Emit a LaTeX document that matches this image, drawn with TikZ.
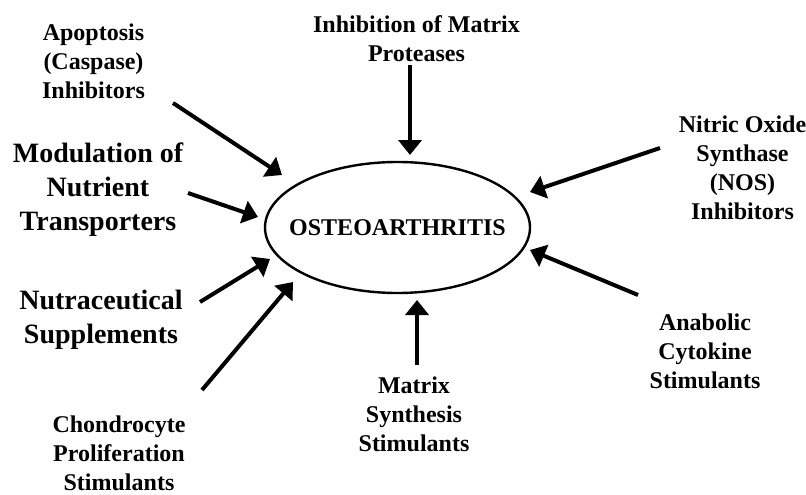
\documentclass[tikz,border=0pt]{standalone}
\usepackage{fontspec}
\setmainfont{Liberation Serif}
\usepackage{tikz}
\usetikzlibrary{shapes.geometric,arrows.meta,positioning,calc}

\begin{document}
\begin{tikzpicture}[x=1pt, y=-1pt,
    lbl/.style={align=center, inner sep=0pt, anchor=north, font=\fontsize{24}{29}\selectfont\bfseries},
    biglbl/.style={align=center, inner sep=0pt, anchor=north, font=\fontsize{28}{34}\selectfont\bfseries},
    feed/.style={-{Triangle[length=15pt, width=23pt]}, line width=4pt}]
            \useasboundingbox (0,0) rectangle (806,495);
            % Central disease node
            \node [inner sep=0pt, font=\fontsize{24}{29}\selectfont\bfseries] (oa) at (397.5,227.5) {OSTEOARTHRITIS};
            \draw [line width=2.4pt] (oa.center) ellipse [x radius=132.5, y radius=65.5];

            % Treatment labels round the ellipse
            \node [lbl] (apop) at (93.5,23.6) {Apoptosis\\(Caspase)\\Inhibitors};
            \node [lbl] (inhib) at (416.5,15.6) {Inhibition of Matrix\\Proteases};
            \node [biglbl] (modul) at (98,142.9) {Modulation of\\Nutrient\\Transporters};
            \node [biglbl] (nutra) at (101,289.9) {Nutraceutical\\Supplements};
            \node [lbl] (chond) at (119,416) {Chondrocyte\\Proliferation\\Stimulants};
            \node [lbl] (matsyn) at (414,376.6) {Matrix\\Synthesis\\Stimulants};
            \node [lbl] (nos) at (742.5,115.6) {Nitric Oxide\\Synthase\\(NOS)\\Inhibitors};
            \node [lbl] (anab) at (705,313.6) {Anabolic\\Cytokine\\Stimulants};

            % Arrow ends
            \coordinate (apop-s) at (173,103);   \coordinate (apop-t) at (282,175);
            \coordinate (modul-s) at (188,193);  \coordinate (modul-t) at (258,217);
            \coordinate (inhib-s) at (410,65);   \coordinate (inhib-t) at (410,155);
            \coordinate (nos-s) at (660,148);    \coordinate (nos-t) at (530,192);
            \coordinate (anab-s) at (638,295);   \coordinate (anab-t) at (530,250);
            \coordinate (nutra-s) at (200,302);  \coordinate (nutra-t) at (270,259);
            \coordinate (chond-s) at (202,390);  \coordinate (chond-t) at (293,282);
            \coordinate (matsyn-s) at (417,365); \coordinate (matsyn-t) at (417,300);

            % Arrows into the ellipse
            \foreach \n in {apop,modul,inhib,nos,anab,nutra,chond,matsyn}
                \draw [feed] (\n-s) -- (\n-t);
        \end{tikzpicture}
\end{document}
